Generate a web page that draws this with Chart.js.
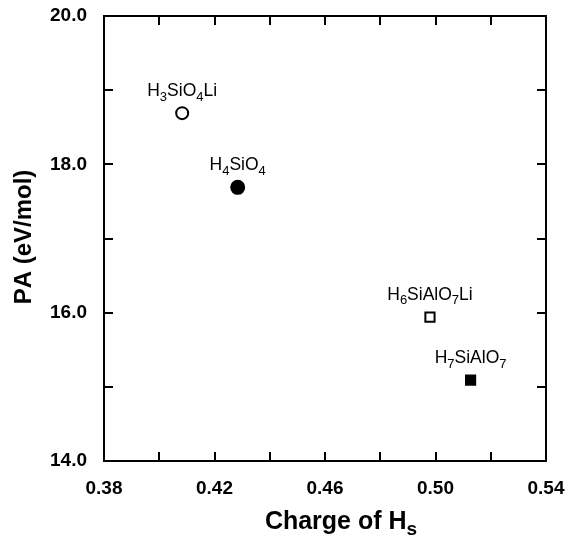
<!DOCTYPE html>
<html>
<head>
<meta charset="utf-8">
<script src="https://cdn.jsdelivr.net/npm/chart.js@4"></script>
<style>
  html, body { margin: 0; padding: 0; background: #fff; overflow: hidden; }
  #box { width: 568px; height: 536px; position: relative; }
  canvas { display: block; }
</style>
</head>
<body>
<div id="box"><canvas id="grafico"></canvas></div>
<script>
// labels: "_" marks the next character as a subscript
const compostos = ["H_3SiO_4Li", "H_4SiO_4", "H_6SiAlO_7Li", "H_7SiAlO_7"];
const cargaHs = [0.4083, 0.4284, 0.4980, 0.5127];
const afinidade = [18.69, 17.69, 15.94, 15.09];
const marcadores = ["circle", "circle", "rect", "rect"];
const preenchido = [false, true, false, true];

const xTicks = [0.38, 0.42, 0.46, 0.50, 0.54];
const yTicks = [14.0, 16.0, 18.0, 20.0];

const fonte = "'Liberation Sans', Arial, Helvetica, sans-serif";

// draw text with "_x" subscripts, centered on cx
function textoSub(ctx, s, cx, y, size, bold) {
  const partes = [];
  for (let i = 0; i < s.length; i++) {
    if (s[i] === "_") { partes.push([s[i + 1], true]); i++; }
    else partes.push([s[i], false]);
  }
  const peso = bold ? "bold " : "";
  const fN = peso + size + "px " + fonte;
  const fS = peso + Math.round(size * 0.75) + "px " + fonte;
  let w = 0;
  partes.forEach(p => { ctx.font = p[1] ? fS : fN; w += ctx.measureText(p[0]).width; });
  let x = cx - w / 2;
  ctx.textAlign = "left";
  ctx.textBaseline = "alphabetic";
  partes.forEach(p => {
    ctx.font = p[1] ? fS : fN;
    ctx.fillText(p[0], x, p[1] ? y + size * 0.25 : y);
    x += ctx.measureText(p[0]).width;
  });
}

const moldura = {
  id: "moldura",
  afterDraw(chart) {
    const { ctx, chartArea: a, scales } = chart;
    ctx.save();
    ctx.strokeStyle = "#000";
    ctx.lineWidth = 2;
    ctx.strokeRect(a.left, a.top, a.right - a.left, a.bottom - a.top);
    ctx.beginPath();
    for (let v = 0.40; v < 0.539; v += 0.02) {
      const px = Math.round(scales.x.getPixelForValue(v));
      ctx.moveTo(px, a.bottom); ctx.lineTo(px, a.bottom - 9);
      ctx.moveTo(px, a.top); ctx.lineTo(px, a.top + 9);
    }
    for (let v = 15; v < 20; v += 1) {
      const py = Math.round(scales.y.getPixelForValue(v));
      ctx.moveTo(a.left, py); ctx.lineTo(a.left + 9, py);
      ctx.moveTo(a.right, py); ctx.lineTo(a.right - 9, py);
    }
    ctx.stroke();

    ctx.fillStyle = "#000";
    // point labels
    const meta = chart.getDatasetMeta(0);
    meta.data.forEach((pt, i) => {
      textoSub(ctx, compostos[i], pt.x, pt.y - 17, 17.5, false);
    });

    // axis titles
    textoSub(ctx, "Charge of H_s", (a.left + a.right) / 2 + 16, 529, 25, true);
    ctx.translate(22, 237);
    ctx.rotate(-Math.PI / 2);
    textoSub(ctx, "PA (eV/mol)", 0, 9, 24, true);
    ctx.restore();
  }
};

function semPadding(s) {
  s.paddingLeft = 0; s.paddingRight = 0; s.paddingTop = 0; s.paddingBottom = 0;
}

new Chart(document.getElementById("grafico"), {
  type: "scatter",
  data: {
    datasets: [{
      data: cargaHs.map((x, i) => ({ x, y: afinidade[i] })),
      pointStyle: marcadores,
      pointRadius: [6, 6.5, 6.5, 6.5],
      pointBorderWidth: 2,
      pointBorderColor: "#000",
      pointBackgroundColor: preenchido.map(f => f ? "#000" : "#fff"),
      showLine: false
    }]
  },
  options: {
    responsive: true,
    maintainAspectRatio: false,
    animation: false,
    layout: { padding: { left: 0, top: 16, right: 22, bottom: 0 } },
    plugins: { legend: { display: false }, tooltip: { enabled: false } },
    scales: {
      x: {
        type: "linear",
        min: 0.38, max: 0.54,
        afterFit: s => { s.height = 75; semPadding(s); },
        afterBuildTicks: s => { s.ticks = xTicks.map(v => ({ value: v })); },
        grid: { display: false },
        border: { display: false },
        ticks: {
          color: "#000", padding: 8,
          font: { family: fonte, size: 19, weight: "bold" },
          callback: v => v.toFixed(2)
        }
      },
      y: {
        type: "linear",
        min: 14, max: 20,
        afterFit: s => { s.width = 104; semPadding(s); },
        afterBuildTicks: s => { s.ticks = yTicks.map(v => ({ value: v })); },
        grid: { display: false },
        border: { display: false },
        ticks: {
          color: "#000", padding: 9,
          font: { family: fonte, size: 19, weight: "bold" },
          callback: v => v.toFixed(1)
        }
      }
    }
  },
  plugins: [moldura]
});
</script>
</body>
</html>
